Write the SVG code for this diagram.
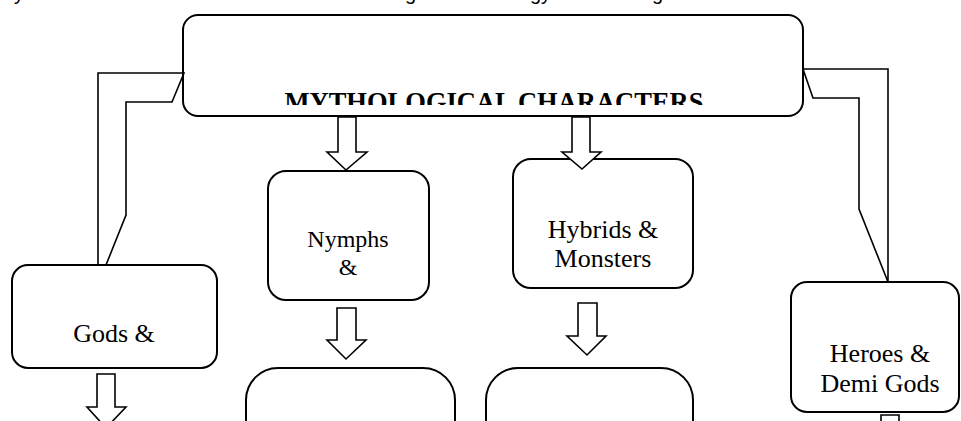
<svg xmlns="http://www.w3.org/2000/svg" width="961" height="421" viewBox="0 0 961 421">
<style>
.box{fill:#fff;stroke:#000;stroke-width:2}
.con{fill:#fff;stroke:#000;stroke-width:1.6;stroke-linejoin:miter}
.bend{fill:none;stroke:#000;stroke-width:1.6;stroke-linejoin:miter}
.lbl{font-family:"Liberation Serif","Times New Roman",serif;font-size:26px;fill:#000;text-anchor:middle}
.title{font-family:"Liberation Serif","Times New Roman",serif;font-size:26.5px;font-weight:bold;fill:#000;text-anchor:middle}
.cap{font-family:"Liberation Sans",Arial,sans-serif;font-size:20px;fill:#000}
</style>
<defs>
<clipPath id="titleClip"><rect x="183" y="15" width="620" height="90"/></clipPath>
</defs>
<rect width="961" height="421" fill="#fff"/>
<g id="caption-fragments">
<text class="cap" x="14" y="0">y</text>
<text class="cap" x="405" y="0">g</text>
<text class="cap" x="530" y="0">gy</text>
<text class="cap" x="652" y="0">g</text>
</g>
<g id="node-main">
<rect class="box" x="183" y="15" width="620" height="101" rx="15"/>
<text class="title" x="494" y="111" clip-path="url(#titleClip)">MYTHOLOGICAL CHARACTERS</text>
</g>
<g id="node-gods">
<rect class="box" x="12" y="265" width="205" height="103" rx="16"/>
<text class="lbl" x="114" y="342">Gods &amp;</text>
</g>
<g id="node-nymphs">
<rect class="box" x="268" y="171" width="161" height="129" rx="18"/>
<text class="lbl" x="348" y="247" style="font-size:24px">Nymphs</text>
<text class="lbl" x="348" y="275" style="font-size:24px">&amp;</text>
</g>
<g id="node-hybrids">
<rect class="box" x="513" y="159" width="180" height="129" rx="18"/>
<text class="lbl" x="603" y="238">Hybrids &amp;</text>
<text class="lbl" x="603" y="267">Monsters</text>
</g>
<g id="node-heroes">
<rect class="box" x="791" y="282" width="168" height="130" rx="16"/>
<text class="lbl" x="880" y="362">Heroes &amp;</text>
<text class="lbl" x="880" y="392">Demi Gods</text>
</g>
<g id="node-nymphs-child">
<rect class="box" x="246" y="368" width="209" height="120" rx="32"/>
</g>
<g id="node-hybrids-child">
<rect class="box" x="486" y="368" width="207" height="120" rx="32"/>
</g>
<g id="connectors">
<polygon class="bend" points="184,73 98,73 98,265 106,265 126,215 126,102 172,102"/>
<polygon class="bend" points="803,69 888,69 888,282 859,209 859,98 813,98"/>
<polygon class="con" points="338,117 356,117 356,152 367,152 346,170 327,152 338,152"/>
<polygon class="con" points="572,117 590,117 590,152 601,152 582,169 562,152 572,152"/>
<polygon class="con" points="337,308 356,308 356,340 366,340 346,359 327,340 337,340"/>
<polygon class="con" points="578,303 597,303 597,336 606,336 587,355 567,336 578,336"/>
<polygon class="con" points="97,374 115,374 115,407 126,407 106,428 87,407 97,407"/>
<polygon class="con" points="881,415 899,415 899,440 881,440"/>
</g>
</svg>
